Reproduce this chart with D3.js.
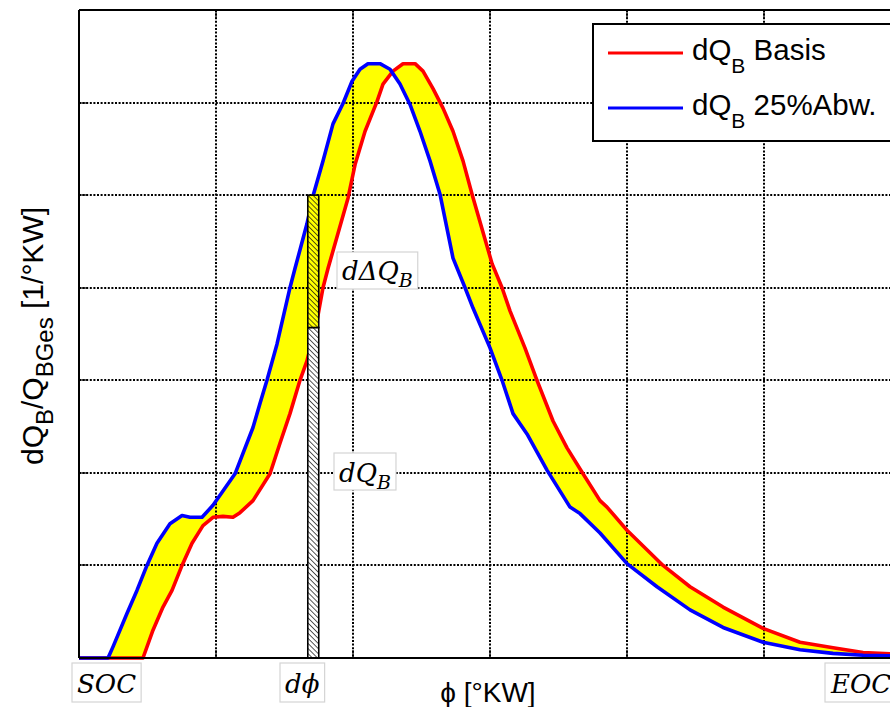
<!DOCTYPE html>
<html>
<head>
<meta charset="utf-8">
<script src="https://cdn.jsdelivr.net/npm/d3@7"></script>
<style>
  body { margin: 0; background: #fff; }
  svg { display: block; }
</style>
</head>
<body>
<svg id="chart" width="890" height="707"></svg>
<script>
// Grid positions (no numeric tick labels are shown)
const gridPhi = [0, 10, 20, 30, 40, 50, 60];
const gridDq = [0, 1, 2, 3, 4, 5, 6, 7];

// Heat release rate, base case
const phiBasis = [0, 4.67, 5.40, 6.13, 6.79, 7.52, 8.25, 9.05, 9.78, 10.51, 11.24, 11.75, 12.70, 13.94,
  14.67, 15.40, 16.13, 16.64, 17.37, 17.81, 18.18, 19.64, 20.15, 20.88, 21.75, 22.19, 22.92, 23.65,
  24.53, 25.11, 25.84, 26.57, 27.30, 28.03, 28.69, 30.15, 30.88, 31.46, 32.55, 33.43, 34.60, 35.62,
  36.79, 38.03, 38.54, 40.00, 42.63, 44.60, 47.01, 49.93, 52.63, 55.04, 57.23, 60];
const dqBasis = [0, 0, 0.30, 0.55, 0.73, 1.00, 1.24, 1.43, 1.52, 1.53, 1.52, 1.57, 1.70, 1.99,
  2.32, 2.64, 3.00, 3.21, 3.64, 4.00, 4.21, 4.97, 5.33, 5.69, 6.01, 6.20, 6.34, 6.42,
  6.42, 6.34, 6.15, 5.94, 5.69, 5.37, 5.01, 4.26, 4.00, 3.75, 3.35, 3.00, 2.56, 2.27,
  1.99, 1.70, 1.63, 1.38, 1.00, 0.77, 0.55, 0.32, 0.17, 0.11, 0.06, 0.04];

// Heat release rate, 25 % deviation
const phiAbw = [0, 2.12, 2.48, 3.50, 4.23, 4.96, 5.69, 6.64, 7.52, 8.10, 8.98, 9.78, 11.39, 12.70,
  13.21, 13.72, 14.45, 15.40, 15.77, 16.64, 17.08, 17.81, 18.54, 19.27, 19.93, 20.51, 21.09, 21.97,
  22.70, 23.43, 24.16, 24.89, 25.62, 26.35, 27.30, 28.18, 28.76, 30.00, 30.88, 31.68, 32.70, 34.16,
  35.84, 36.57, 38.03, 40.00, 42.19, 44.60, 47.01, 49.93, 52.63, 55.04, 57.23, 60];
const dqAbw = [0, 0, 0.12, 0.48, 0.73, 1.00, 1.24, 1.45, 1.54, 1.52, 1.52, 1.65, 1.99, 2.49,
  2.75, 3.00, 3.39, 4.00, 4.21, 4.69, 4.99, 5.37, 5.77, 5.99, 6.23, 6.36, 6.42, 6.42,
  6.36, 6.20, 5.98, 5.69, 5.37, 5.01, 4.32, 4.00, 3.78, 3.35, 3.00, 2.64, 2.42, 2.03,
  1.63, 1.56, 1.35, 1.02, 0.77, 0.52, 0.33, 0.17, 0.09, 0.05, 0.03, 0.02];

// Crank-angle strip dphi and its two stacked parts
const stripPhi = [16.7, 17.5];
const stripDq = [3.57, 5.0];   // dQ_B, dQ_B + d(Delta)Q_B

const seriesNames = ["Basis", "25%Abw."];
const seriesColors = ["#ff0000", "#0000ff"];

const svg = d3.select("#chart");
const L = 79, T = 10, R = 901, B = 658;
const x = d3.scaleLinear().domain([0, 60]).range([L, R]);
const y = d3.scaleLinear().domain([0, 7]).range([B, T]);

const basis = phiBasis.map((p, i) => [p, dqBasis[i]]);
const abw = phiAbw.map((p, i) => [p, dqAbw[i]]);

// hatch pattern for the strip
const defs = svg.append("defs");
const pat = defs.append("pattern")
  .attr("id", "hatch").attr("patternUnits", "userSpaceOnUse")
  .attr("width", 3.6).attr("height", 3.6)
  .attr("patternTransform", "rotate(-45)");
pat.append("line").attr("x1", 0).attr("y1", 0).attr("x2", 0).attr("y2", 3.6)
  .attr("stroke", "#111").attr("stroke-width", 1.4);

// band between both curves
const line = d3.line().x(d => x(d[0])).y(d => y(d[1]));
const band = abw.concat(basis.slice().reverse());
svg.append("path")
  .attr("d", line(band) + "Z")
  .attr("fill", "#ffff00").attr("stroke", "none");

// dotted grid
const grid = svg.append("g").attr("stroke", "#000").attr("stroke-width", 2)
  .attr("stroke-dasharray", "2,1.6").attr("fill", "none");
grid.selectAll("line.v").data(gridPhi.slice(1, -1)).join("line").attr("class", "v")
  .attr("x1", d => Math.round(x(d))).attr("x2", d => Math.round(x(d))).attr("y1", T).attr("y2", B);
grid.selectAll("line.h").data(gridDq.slice(1, -1)).join("line").attr("class", "h")
  .attr("x1", L).attr("x2", R).attr("y1", d => Math.round(y(d))).attr("y2", d => Math.round(y(d)));

// inward ticks
const ticks = svg.append("g").attr("stroke", "#000").attr("stroke-width", 1.2);
gridPhi.forEach(p => {
  const px = Math.round(x(p));
  ticks.append("line").attr("x1", px).attr("x2", px).attr("y1", B).attr("y2", B - 8);
  ticks.append("line").attr("x1", px).attr("x2", px).attr("y1", T).attr("y2", T + 8);
});
gridDq.forEach(v => {
  const py = Math.round(y(v));
  ticks.append("line").attr("x1", L).attr("x2", L + 8).attr("y1", py).attr("y2", py);
});

// curves
[basis, abw].forEach((s, i) => {
  svg.append("path").attr("d", line(s)).attr("fill", "none")
    .attr("stroke", seriesColors[i]).attr("stroke-width", 3.6)
    .attr("stroke-linejoin", "round");
});

// stacked strip: dQ_B (white) and d(Delta)Q_B (yellow), both hatched
const sx0 = x(stripPhi[0]), sw = x(stripPhi[1]) - x(stripPhi[0]);
const parts = [[0, stripDq[0], "#ffffff"], [stripDq[0], stripDq[1], "#ffff00"]];
parts.forEach(([a, b, c]) => {
  svg.append("rect").attr("x", sx0).attr("y", y(b)).attr("width", sw).attr("height", y(a) - y(b))
    .attr("fill", c);
  svg.append("rect").attr("x", sx0).attr("y", y(b)).attr("width", sw).attr("height", y(a) - y(b))
    .attr("fill", "url(#hatch)").attr("stroke", "#000").attr("stroke-width", 1.6);
});

// axes frame
const frame = svg.append("g").attr("stroke", "#000").attr("stroke-width", 2).attr("fill", "none");
frame.append("line").attr("x1", L).attr("x2", L).attr("y1", T).attr("y2", B);
frame.append("line").attr("x1", L).attr("x2", R).attr("y1", B).attr("y2", B);
frame.append("line").attr("x1", L).attr("x2", R).attr("y1", T).attr("y2", T);
frame.append("line").attr("x1", R).attr("x2", R).attr("y1", T).attr("y2", B);

// boxed math labels
function mathLabel(px, baseline, parts, boxTop, boxH, padR) {
  const g = svg.append("g");
  const rect = g.append("rect").attr("fill", "#fff").attr("stroke", "#d4d4d4").attr("stroke-width", 1.2);
  const t = g.append("text").attr("x", px).attr("y", baseline)
    .attr("font-family", "'DejaVu Serif', 'Liberation Serif', serif")
    .attr("font-style", "italic").attr("font-size", 26).attr("fill", "#000");
  parts.forEach(p => {
    const ts = t.append("tspan").text(p.t);
    if (p.sub) ts.attr("font-size", 19).attr("dy", 7);
  });
  const bb = t.node().getBBox();
  rect.attr("x", bb.x - 5).attr("y", boxTop).attr("width", bb.width + (padR || 10)).attr("height", boxH);
}
mathLabel(77, 693, [{t: "SOC"}], 663, 39);
mathLabel(285, 693, [{t: "d\u03D5"}], 663, 39);
mathLabel(831, 693, [{t: "EOC"}], 663, 39, 30);
mathLabel(342, 280, [{t: "d\u0394Q"}, {t: "B", sub: true}], 252, 37);
mathLabel(339, 482, [{t: "dQ"}, {t: "B", sub: true}], 453, 37);

// legend
const leg = svg.append("g");
leg.append("rect").attr("x", 593).attr("y", 24).attr("width", 320).attr("height", 117)
  .attr("fill", "#fff").attr("stroke", "#000").attr("stroke-width", 2);
seriesNames.forEach((n, i) => {
  const ly = 53 + i * 55;
  leg.append("line").attr("x1", 608).attr("x2", 683).attr("y1", ly).attr("y2", ly)
    .attr("stroke", seriesColors[i]).attr("stroke-width", 3.2);
  const t = leg.append("text").attr("x", 692).attr("y", ly + 7)
    .attr("font-family", "'Liberation Sans', Arial, sans-serif").attr("font-size", 29.5).attr("fill", "#000");
  t.append("tspan").text("dQ");
  t.append("tspan").text("B").attr("font-size", 21).attr("dy", 13);
  t.append("tspan").text(" " + n).attr("dy", -13);
});

// axis titles
svg.append("text").attr("x", 488).attr("y", 702).attr("text-anchor", "middle")
  .attr("font-family", "'Liberation Sans', Arial, sans-serif").attr("font-size", 28)
  .text("\u03D5 [\u00B0KW]");

const yl = svg.append("text").attr("transform", "translate(43,336) rotate(-90)")
  .attr("text-anchor", "middle")
  .attr("font-family", "'Liberation Sans', Arial, sans-serif").attr("font-size", 30);
yl.append("tspan").text("dQ");
yl.append("tspan").text("B").attr("font-size", 24).attr("dy", 10);
yl.append("tspan").text("/Q").attr("dy", -10);
yl.append("tspan").text("BGes").attr("font-size", 24).attr("dy", 10);
yl.append("tspan").text(" [1/\u00B0KW]").attr("dy", -10);
</script>
</body>
</html>
